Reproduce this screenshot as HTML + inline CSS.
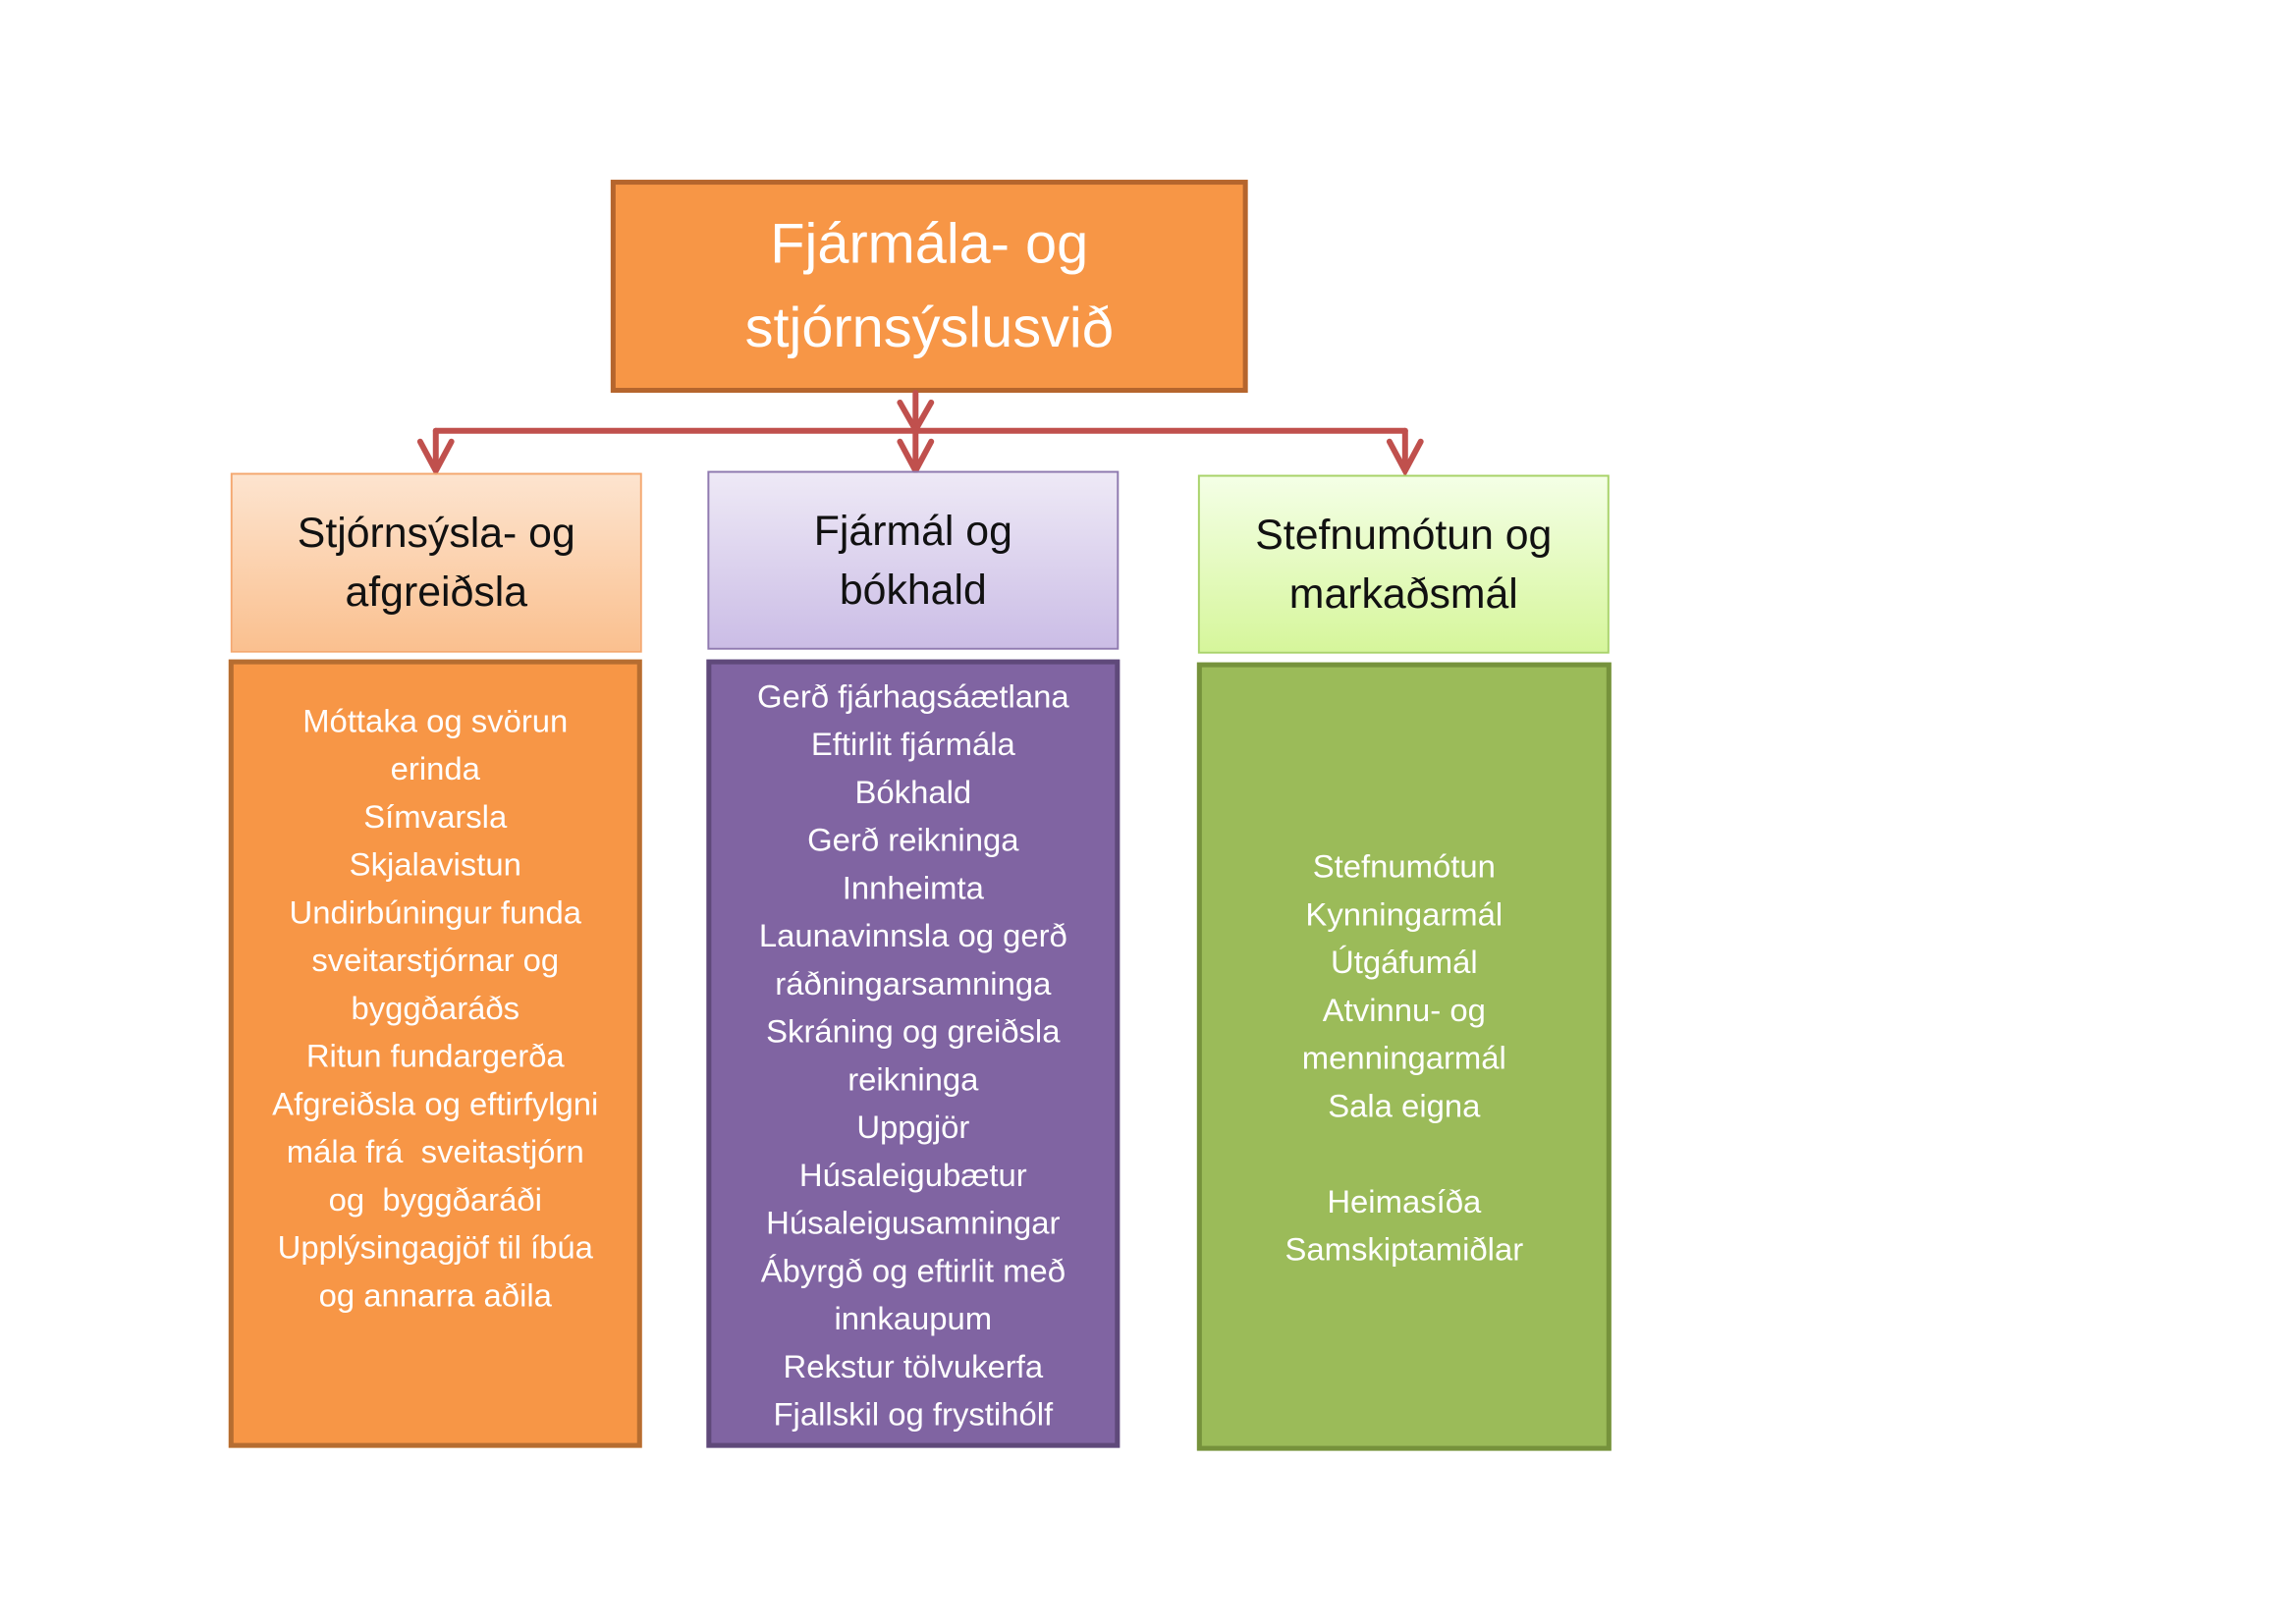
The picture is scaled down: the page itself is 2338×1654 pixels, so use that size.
<!DOCTYPE html>
<html><head><meta charset="utf-8"><style>
body{margin:0;width:2338px;height:1654px;background:#fff;position:relative;overflow:hidden;font-family:"Liberation Sans",sans-serif;}
#w{position:absolute;left:0;top:0;width:2338px;height:1654px;transform:scale(0.995);transform-origin:0 0;}
.b{position:absolute;box-sizing:border-box;display:flex;align-items:center;justify-content:center;text-align:center;}
.top{left:625px;top:184px;width:652px;height:218px;background:#f79646;border:5px solid #b5652d;color:#fff;font-size:58px;line-height:86px;}
.h{font-size:43px;line-height:60px;color:#111;}
.t{position:absolute;box-sizing:border-box;text-align:center;color:#fff;font-size:33px;line-height:49px;border:5px solid;}
</style></head><body><div id="w">
<div class="b top">Fjármála- og<br>stjórnsýslusvið</div>
<svg style="position:absolute;left:0;top:0" width="2338" height="1654">
<g stroke="#c0504d" stroke-width="6" fill="none" stroke-linecap="round">
<line x1="937" y1="402" x2="937" y2="478"/>
<line x1="446" y1="441" x2="1438" y2="441"/>
<line x1="446" y1="441" x2="446" y2="480"/>
<line x1="1438" y1="441" x2="1438" y2="480"/>
<polyline points="430,452 446,482 462,452"/>
<polyline points="921,452 937,482 953,452"/>
<polyline points="1422,452 1438,482 1454,452"/>
<polyline points="921,412 937,440 953,412"/>
</g></svg>
<div class="b h" style="left:236px;top:484px;width:421px;height:184px;border:2px solid #f4a870;background:linear-gradient(#fde4cf,#fac08f);">Stjórnsýsla- og<br>afgreiðsla</div>
<div class="b h" style="left:724px;top:482px;width:421px;height:183px;border:2px solid #8f7ab0;background:linear-gradient(#eee9f6,#cbbde6);">Fjármál og<br>bókhald</div>
<div class="b h" style="left:1226px;top:486px;width:421px;height:183px;border:2px solid #a9d36a;background:linear-gradient(#f4ffe6,#d6f69b);">Stefnumótun og<br>markaðsmál</div>
<div class="t" style="left:234px;top:675px;width:423px;height:807px;background:#f79646;border-color:#b66d31;padding-top:33px;">Móttaka og svörun<br>erinda<br>Símvarsla<br>Skjalavistun<br>Undirbúningur funda<br>sveitarstjórnar og<br>byggðaráðs<br>Ritun fundargerða<br>Afgreiðsla og eftirfylgni<br>mála frá&nbsp; sveitastjórn<br>og&nbsp; byggðaráði<br>Upplýsingagjöf til íbúa<br>og annarra aðila</div>
<div class="t" style="left:723px;top:675px;width:423px;height:807px;background:#8064a2;border-color:#5f497a;padding-top:8px;">Gerð fjárhagsáætlana<br>Eftirlit fjármála<br>Bókhald<br>Gerð reikninga<br>Innheimta<br>Launavinnsla og gerð<br>ráðningarsamninga<br>Skráning og greiðsla<br>reikninga<br>Uppgjör<br>Húsaleigubætur<br>Húsaleigusamningar<br>Ábyrgð og eftirlit með<br>innkaupum<br>Rekstur tölvukerfa<br>Fjallskil og frystihólf</div>
<div class="t" style="left:1225px;top:678px;width:424px;height:807px;background:#9bbb59;border-color:#76923c;padding-top:179px;">Stefnumótun<br>Kynningarmál<br>Útgáfumál<br>Atvinnu- og<br>menningarmál<br>Sala eigna<br><br>Heimasíða<br>Samskiptamiðlar</div>
</div></body></html>
